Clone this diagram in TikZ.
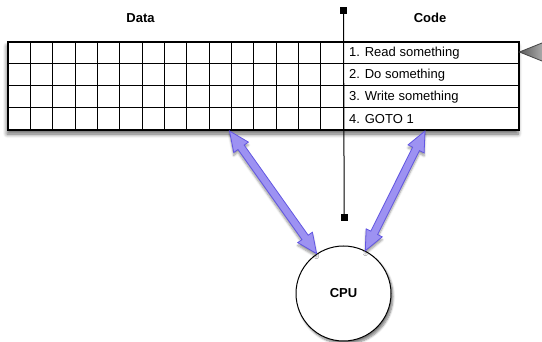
\documentclass[tikz,border=0pt]{standalone}
\usepackage{fontspec}
\setmainfont{Liberation Sans}
\usetikzlibrary{calc,shadows.blur}
\definecolor{arrfill}{HTML}{9D92F2}
\definecolor{arrline}{HTML}{6256E2}
\tikzset{
  title/.style={font=\fontsize{13}{15}\selectfont\bfseries, inner sep=0pt},
  codetext/.style={font=\fontsize{13}{15}\selectfont, anchor=west, inner sep=0pt},
  gridline/.style={draw=black, line width=1pt},
  tablebox/.style={draw=black, line width=1.2pt, fill=white, rectangle, inner sep=0pt,
    blur shadow={shadow xshift=-1pt, shadow yshift=-4pt, shadow blur steps=6, shadow blur radius=4pt, shadow opacity=60}},
  handle/.style={fill=black, draw=none, minimum size=7pt, inner sep=0pt, rectangle},
  cpubox/.style={circle, draw=black, line width=1pt, fill=white, minimum size=95pt, inner sep=0pt,
    font=\fontsize{13}{15}\selectfont\bfseries,
    blur shadow={shadow xshift=2pt, shadow yshift=-3pt, shadow blur steps=6, shadow opacity=50}},
  fatarrow/.style={fill=arrfill, draw=arrline, line width=0.8pt, line join=miter,
    blur shadow={shadow xshift=0pt, shadow yshift=-3pt, shadow blur steps=5, shadow opacity=40}},
  pointer/.style={draw=black!70, line width=0.9pt, left color=black!65, right color=black!20},
}
\begin{document}
\begin{tikzpicture}[x=1pt,y=-1pt]
\path[use as bounding box] (0,0) rectangle (542,342);
\clip (0,0) rectangle (542,342);

% titles
\node[title] (datat) at (140.5,18) {Data};
\node[title] (codet) at (430,18) {Code};

% table
\node[tablebox, minimum width=511pt, minimum height=88pt] (tbl) at (263.5,86) {};
\foreach \i in {1,...,14} {
  \draw[gridline] ({8+\i*22.35},42) -- ({8+\i*22.35},130);
}
\draw[gridline] (343.3,42) -- (343.3,130);
\foreach \r in {64,86,108} {
  \draw[gridline] (8,\r) -- (519,\r);
}
\draw[black, line width=1.2pt] (tbl.south west) rectangle (tbl.north east);

% code text
\node[codetext] (c1) at (349,53) {1. Read something};
\node[codetext] (c2) at (349,75) {2. Do something};
\node[codetext] (c3) at (349,97) {3. Write something};
\node[codetext] (c4) at (349,119) {4. GOTO 1};

% pointer triangle
\draw[pointer] (519.5,52) -- (552,39) -- (552,65) -- cycle;

% vertical line with handles
\node[handle] (h1) at (343.5,11) {};
\node[handle] (h2) at (344.2,218) {};
\draw[black, line width=1pt] (h1.center) -- (h2.north);

% CPU
\node[cpubox] (cpu) at (343.5,293.5) {CPU};

% arrow endpoints on table
\coordinate (da) at (229.5,131);
\coordinate (ca) at (425,131);

% fat double arrows
\foreach \A/\B in {da/cpu.124, ca/cpu.63} {
  \path[fatarrow]
    (\A)
    -- ($(\A)!20pt!(\B)!9pt!90:(\B)$)
    -- ($(\A)!20pt!(\B)!3.8pt!90:(\B)$)
    -- ($(\B)!20pt!(\A)!3.8pt!-90:(\A)$)
    -- ($(\B)!20pt!(\A)!9pt!-90:(\A)$)
    -- (\B)
    -- ($(\B)!20pt!(\A)!9pt!90:(\A)$)
    -- ($(\B)!20pt!(\A)!3.8pt!90:(\A)$)
    -- ($(\A)!20pt!(\B)!3.8pt!-90:(\B)$)
    -- ($(\A)!20pt!(\B)!9pt!-90:(\B)$)
    -- cycle;
}
\end{tikzpicture}
\end{document}
